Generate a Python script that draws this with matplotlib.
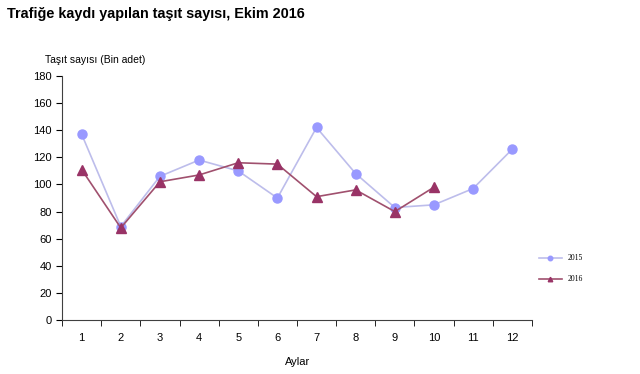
import matplotlib.pyplot as plt
import numpy as np

plt.rcParams["font.family"] = ["Liberation Sans", "DejaVu Sans"]

months = list(range(1, 13))
v2015 = [137, 69, 106, 118, 110, 90, 142, 108, 83, 85, 97, 126]
months_2016 = list(range(1, 11))
v2016 = [111, 68, 102, 107, 116, 115, 91, 96, 80, 98]

fig = plt.figure(figsize=(6.4, 3.74), dpi=100)
ax = fig.add_axes([0.097, 0.144, 0.734, 0.653])

ax.plot(months, v2015, color="#BDBDEB", linewidth=1.2, marker="o",
        markersize=6.5, markerfacecolor="#9999FF", markeredgecolor="#9999FF", label="2015")
ax.plot(months_2016, v2016, color="#A0506E", linewidth=1.2, marker="^",
        markersize=6.5, markerfacecolor="#993366", markeredgecolor="#993366", label="2016")

ax.set_xlim(0.5, 12.5)
ax.set_ylim(0, 180)
ax.set_yticks(range(0, 181, 20))
ax.set_xticks(months)
ax.set_xticks(np.arange(0.5, 12.6, 1), minor=True)
ax.tick_params(axis="x", which="major", length=0, labelsize=8, pad=9)
ax.tick_params(axis="x", which="minor", length=4, direction="out")
ax.tick_params(axis="y", length=4, direction="out", labelsize=8)
for s in ["top", "right"]:
    ax.spines[s].set_visible(False)
for s in ["left", "bottom"]:
    ax.spines[s].set_color("#404040")

fig.text(0.011, 0.963, "Trafiğe kaydı yapılan taşıt sayısı, Ekim 2016",
         fontsize=10.4, fontweight="bold", va="center", ha="left")
fig.text(0.07, 0.84, "Taşıt sayısı (Bin adet)", fontsize=7.5, va="center", ha="left")
fig.text(0.445, 0.032, "Aylar", fontsize=8, va="center", ha="left")

leg = ax.legend(loc="center left", bbox_to_anchor=(1.0, 0.21), frameon=False,
                handlelength=3, markerscale=0.5, labelspacing=1.7,
                prop={"family": "Liberation Serif", "size": 5.5})

fig.savefig("out.png", dpi=100)
